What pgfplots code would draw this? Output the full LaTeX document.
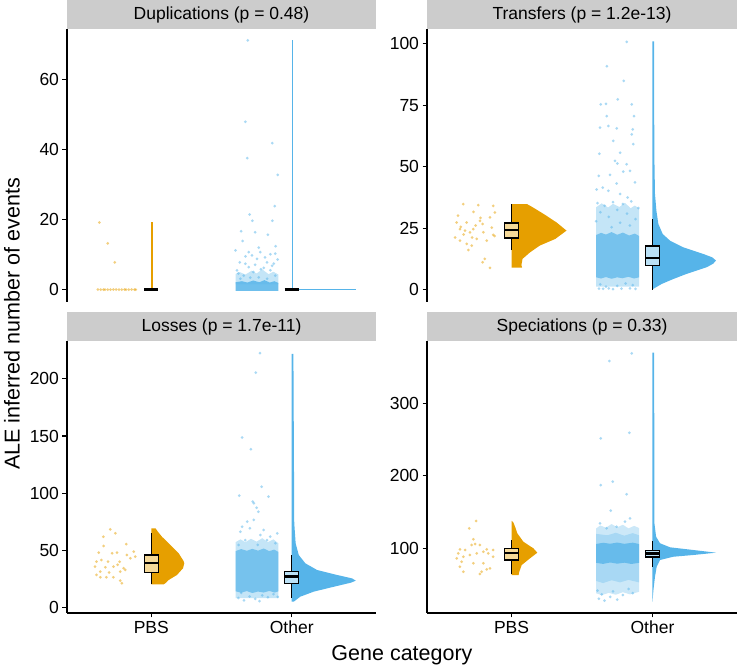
\documentclass[border=0pt]{standalone}
\usepackage{fontspec}
\setmainfont{Liberation Sans}
\usepackage{pgfplots}
\pgfplotsset{compat=1.18}

\definecolor{pbs}{HTML}{E69F00}
\definecolor{oth}{HTML}{56B4E9}
\definecolor{strip}{HTML}{CCCCCC}

\newcommand{\ticksz}{\fontsize{17.5}{20}\selectfont}
\newcommand{\labsz}{\fontsize{21.5}{24}\selectfont}

\pgfplotsset{
  rain/.style={
    scale only axis, width=309pt, height=273pt,
    xmin=0.4, xmax=2.6, anchor=south west,
    axis y line*=left,
    axis line style={line width=1.1pt, black},
    tick align=outside, major tick length=4.5pt,
    tick style={line width=1.1pt, black},
    ticklabel style={font=\ticksz},
    /pgf/number format/assume math mode=true,
  },
  top/.style={rain, axis x line=none},
  bot/.style={rain, height=272pt, axis x line*=bottom,
    xtick={1,2}, xticklabels={PBS,Other}},
  pts/.style={only marks, mark=*, mark size=1.5pt, color=#1,
    mark options={fill=#1, fill opacity=0.5, draw opacity=0}},
  core/.style={fill=oth, draw=none, fill opacity=#1},
  vio/.style={fill=#1, draw=none},
  whisk/.style={black, line width=1.3pt},
  bx/.style={draw=black, line width=1.3pt, fill=#1!40!white},
  med/.style={black, line width=2.2pt},
}

\begin{document}
\begin{tikzpicture}
\useasboundingbox (0,0) rectangle (737pt,669pt);

% strips
\fill[strip] (67pt,640pt) rectangle (376pt,669pt);
\fill[strip] (427pt,640pt) rectangle (737pt,669pt);
\fill[strip] (67pt,328pt) rectangle (376pt,357pt);
\fill[strip] (427pt,328pt) rectangle (737pt,357pt);
\node[font=\ticksz] at (221.5pt,654.5pt) {Duplications (p = 0.48)};
\node[font=\ticksz] at (582pt,654.5pt) {Transfers (p = 1.2e-13)};
\node[font=\ticksz] at (221.5pt,342.5pt) {Losses (p = 1.7e-11)};
\node[font=\ticksz] at (582pt,342.5pt) {Speciations (p = 0.33)};

% ---- Duplications
\begin{axis}[top, at={(67pt,367pt)}, ymin=-3.55, ymax=74.55, ytick={0,20,40,60}]
\addplot[pts=pbs] coordinates {
(0.63,19.2)(0.69,13.2)(0.74,7.8)
(0.62,0)(0.64,0)(0.66,0)(0.67,0)(0.69,0)(0.71,0)(0.73,0)(0.75,0)
(0.77,0)(0.79,0)(0.81,0)(0.82,0)(0.84,0)(0.86,0)(0.88,0)(0.89,0)};
\addplot[pbs, line width=1.6pt] coordinates {(1.005,0)(1.005,19.2)};
\addplot[black, line width=3.5pt] coordinates {(0.95,0)(1.05,0)};
\addplot[core=0.35] coordinates {(1.6,1.5)(1.905,1.5)(1.905,4.3)(1.87,5.1)(1.835,4.4)(1.79,5.8)(1.75,4.6)(1.715,5.4)(1.67,4.3)(1.63,5.0)(1.6,4.5)} -- cycle;
\addplot[core=0.85] coordinates {(1.6,-0.4)(1.905,-0.4)(1.905,1.9)(1.875,2.4)(1.845,2.0)(1.805,2.7)(1.77,2.1)(1.725,2.6)(1.685,2.0)(1.645,2.4)(1.6,2.1)} -- cycle;
\addplot[pts=oth] coordinates {
(1.687,71.3)(1.67,48)(1.684,37.6)(1.862,41.9)(1.90,32.8)(1.879,23.9)(1.72,19.7)
(1.862,19.7)(1.64,16.7)(1.74,16.4)(1.65,13.9)(1.886,12.4)(1.765,12)(1.694,10.7)
(1.776,10.7)(1.848,10.1)(1.883,10.3)(1.717,9.8)(1.753,8.8)(1.63,7.8)(1.67,7.4)
(1.824,7.8)(1.872,7.4)(1.694,6.4)(1.801,6.2)(1.61,5.5)(1.727,5)(1.848,5.5)
(1.658,4)(1.765,3.5)(1.883,4)(1.634,3.1)(1.824,3.1)(1.705,3.4)
(1.78,5.8)(1.62,4.6)(1.86,6.8)(1.74,7.1)(1.9,8.6)(1.81,9.2)(1.67,9.5)(1.6,11.2)(1.83,15.7)(1.7,21.5)};
\addplot[oth, line width=1.6pt] coordinates {(2.005,71.3)(2.005,0)(2.46,0)};
\addplot[black, line width=3.5pt] coordinates {(1.95,0)(2.05,0)};
\end{axis}

% ---- Transfers
\begin{axis}[top, width=310pt, at={(427pt,367pt)}, ymin=-5.05, ymax=106.05, ytick={0,25,50,75,100}]
\addplot[pts=pbs] coordinates {
(0.657,34.8)(0.764,34.4)(0.87,34.1)(0.882,31.4)(0.847,29.4)(0.78,29.2)(0.611,27.3)
(0.682,27.3)(0.776,28)(0.729,24.6)(0.795,26.7)(0.634,24.6)(0.67,24)(0.705,23.3)
(0.599,21.2)(0.8,23.3)(0.87,22.3)(0.753,20.6)(0.824,19.9)(0.682,18.6)(0.717,17.9)
(0.634,19.9)(0.693,16.1)(0.81,12.5)(0.795,11.1)(0.847,8.8)(0.88,21.8)(0.64,25.5)
(0.745,26.1)(0.86,25.2)(0.72,21.2)(0.66,22.4)(0.73,31.6)(0.62,30.1)};
\addplot[vio=pbs] coordinates {(1,8.9)(1.075,8.9)(1.07,10)(1.078,12.5)(1.13,15.1)(1.2,17.9)(1.31,20.6)(1.39,24)(1.32,27.3)(1.23,30.7)(1.15,33.5)(1.11,34.8)(1,34.8)} -- cycle;
\addplot[whisk] coordinates {(1,16.1)(1,21)};
\addplot[whisk] coordinates {(1,27.1)(1,34.8)};
\addplot[bx=pbs] coordinates {(0.95,21)(1.05,21)(1.05,27.1)(0.95,27.1)} -- cycle;
\addplot[med] coordinates {(0.95,24.3)(1.05,24.3)};
\addplot[core=0.35] coordinates {(1.6,1.2)(1.905,1.2)(1.905,33)(1.875,34.2)(1.845,33.1)(1.805,35.3)(1.765,33.6)(1.72,34.9)(1.685,33.4)(1.64,35.1)(1.6,33.5)} -- cycle;
\addplot[core=0.7] coordinates {(1.6,5)(1.635,4.5)(1.67,5.1)(1.71,4.4)(1.75,5)(1.785,4.6)(1.83,5.2)(1.87,4.5)(1.905,5)(1.905,21.8)(1.875,22.8)(1.835,22)(1.79,23.2)(1.75,22.3)(1.71,23.4)(1.67,22.4)(1.635,23.1)(1.6,22.2)} -- cycle;
\addplot[pts=oth] coordinates {
(1.817,100.8)(1.677,90.9)(1.796,84.9)(1.633,75.4)(1.67,75.6)(1.753,77.4)(1.853,75.4)
(1.869,70.6)(1.675,70.6)(1.628,65.9)(1.687,66.6)(1.746,65.6)(1.86,65.2)(1.853,63.2)
(1.722,60.5)(1.864,59.2)(1.623,55.3)(1.77,55.7)(1.734,52.4)(1.751,51.3)(1.817,51)
(1.793,48)(1.841,48.3)(1.619,46.3)(1.699,46.7)(1.876,43.6)(1.746,43.2)(1.647,41.5)
(1.604,40.7)(1.687,40.2)(1.77,38.9)(1.824,37.5)
(1.62,0.4)(1.65,0.3)(1.69,0.5)(1.72,0.2)(1.78,0.4)(1.84,0.5)(1.88,0.3)(1.75,1.5)
(1.63,2.1)(1.86,1.8)(1.81,2.5)(1.67,1.2)
(1.61,35.2)(1.66,34.1)(1.72,35.6)(1.79,34.8)(1.85,35.9)(1.9,33.2)(1.63,31.5)(1.75,32.4)
(1.82,30.9)(1.69,29.6)(1.88,28.7)(1.6,27.8)(1.77,27.2)(1.84,26.1)(1.71,25.4)};
\addplot[vio=oth] coordinates {(2,0)(2.006,0.3)(2.066,2.3)(2.148,4.3)(2.243,6.4)(2.385,9.1)(2.43,10.5)(2.451,11.8)(2.425,13.1)(2.361,14.5)(2.219,17.2)(2.125,19.9)(2.073,22.6)(2.042,26.7)(2.028,32.1)(2.018,38.9)(2.014,52.4)(2.012,75)(2.012,101)(2,101)} -- cycle;
\addplot[whisk] coordinates {(2,0)(2,9.7)};
\addplot[whisk] coordinates {(2,17.7)(2,28.7)};
\addplot[bx=oth] coordinates {(1.95,9.7)(2.05,9.7)(2.05,17.7)(1.95,17.7)} -- cycle;
\addplot[med] coordinates {(1.95,13)(2.05,13)};
\end{axis}

% ---- Losses
\begin{axis}[bot, at={(67pt,56pt)}, ymin=-5, ymax=233.2, ytick={0,50,100,150,200}]
\addplot[pts=pbs] coordinates {
(0.708,68.3)(0.744,64.8)(0.659,61.8)(0.822,55.4)(0.661,53.7)(0.626,47.8)(0.721,47.3)
(0.756,47.8)(0.875,48.7)(0.886,44.3)(0.827,45.8)(0.644,41.4)(0.692,39.9)(0.774,39.9)
(0.61,39.9)(0.731,35.6)(0.673,35)(0.803,34.2)(0.779,31.2)(0.637,31.2)(0.61,28.3)
(0.681,26.3)(0.731,26.3)(0.779,23.3)(0.637,26.3)(0.791,21)(0.815,32.7)(0.851,42.9)
(0.60,35.6)(0.7,30.5)(0.76,37.2)};
\addplot[vio=pbs] coordinates {(1,20.1)(1.088,20.1)(1.105,21.5)(1.124,23.9)(1.183,28.3)(1.226,34.2)(1.235,38.5)(1.23,40.5)(1.195,47.3)(1.136,54.6)(1.076,61.8)(1.045,66.5)(1.03,69.2)(1,69.2)} -- cycle;
\addplot[whisk] coordinates {(1,20.3)(1,30.7)};
\addplot[whisk] coordinates {(1,45.8)(1,65.2)};
\addplot[bx=pbs] coordinates {(0.95,30.7)(1.05,30.7)(1.05,45.8)(0.95,45.8)} -- cycle;
\addplot[med] coordinates {(0.95,38.5)(1.05,38.5)};
\addplot[core=0.35] coordinates {(1.6,8)(1.905,8)(1.905,56)(1.87,59.5)(1.83,57)(1.79,60.5)(1.75,57.5)(1.71,60)(1.67,57)(1.635,59.5)(1.6,57)} -- cycle;
\addplot[core=0.7] coordinates {(1.6,14)(1.64,12.8)(1.68,14.2)(1.72,12.5)(1.76,13.8)(1.8,12.9)(1.84,14.3)(1.88,12.9)(1.905,14)(1.905,48.5)(1.875,50.5)(1.84,49.2)(1.8,51.5)(1.76,49.6)(1.72,51.2)(1.68,49.5)(1.64,51)(1.6,49.2)} -- cycle;
\addplot[pts=oth] coordinates {
(1.774,222.5)(1.744,205.5)(1.647,148.6)(1.709,138.4)(1.786,105.6)(1.627,97.8)(1.834,96.9)
(1.722,92.5)(1.75,87.2)(1.762,83.7)(1.73,91.1)(1.683,75)(1.73,76.5)(1.647,70.6)
(1.702,69.2)(1.8,67.7)(1.776,63.3)(1.634,66.2)(1.847,61.8)(1.883,56.1)(1.824,58.9)
(1.669,58.9)(1.622,54.6)(1.758,54.6)(1.897,64.8)
(1.62,8.2)(1.66,6.1)(1.7,9.5)(1.74,7.3)(1.79,10.4)(1.83,8.8)(1.87,11.5)(1.64,12.6)(1.77,5.4)(1.9,9.1)};
\addplot[vio=oth] coordinates {(2,4.9)(2.014,4.9)(2.061,9.3)(2.157,13.7)(2.3,18)(2.42,21.5)(2.456,23.3)(2.43,25.3)(2.323,28.3)(2.18,32.7)(2.097,38.5)(2.05,45.8)(2.028,56)(2.018,73.6)(2.012,222)(2,222)} -- cycle;
\addplot[whisk] coordinates {(2,8.4)(2,21)};
\addplot[whisk] coordinates {(2,31.2)(2,45.8)};
\addplot[bx=oth] coordinates {(1.95,21)(2.05,21)(2.05,31.2)(1.95,31.2)} -- cycle;
\addplot[med] coordinates {(1.95,27)(2.05,27)};
\end{axis}

% ---- Speciations
\begin{axis}[bot, width=310pt, at={(427pt,56pt)}, ymin=10.8, ymax=386, ytick={100,200,300}]
\addplot[pts=pbs] coordinates {
(0.748,137.7)(0.70,127.6)(0.729,112.4)(0.634,98.6)(0.67,97.7)(0.717,104.6)(0.741,105.9)
(0.776,104.6)(0.824,98.6)(0.87,97.7)(0.622,93.1)(0.753,93.1)(0.835,93.1)(0.658,88.4)
(0.705,90.8)(0.80,95.3)(0.646,81.5)(0.729,79.3)(0.80,79.3)(0.634,74.6)(0.658,67.7)
(0.788,67.7)(0.776,64.6)(0.847,72.4)(0.824,71)(0.87,88.4)(0.611,86.2)};
\addplot[vio=pbs] coordinates {(1,63.2)(1.05,63.2)(1.055,67.7)(1.072,77)(1.131,86.2)(1.183,94)(1.155,100)(1.084,109.1)(1.041,120.7)(1.025,129.8)(1.012,136)(1,138)} -- cycle;
\addplot[whisk] coordinates {(1,64.5)(1,84)};
\addplot[whisk] coordinates {(1,100)(1,112)};
\addplot[bx=pbs] coordinates {(0.95,84)(1.05,84)(1.05,100)(0.95,100)} -- cycle;
\addplot[med] coordinates {(0.95,93.5)(1.05,93.5)};
\addplot[core=0.3] coordinates {(1.6,38)(1.64,35.5)(1.69,38.5)(1.74,36)(1.79,39.5)(1.84,36.5)(1.905,40)(1.905,128)(1.87,131)(1.83,127.5)(1.79,132.5)(1.75,129)(1.71,133.5)(1.67,128.5)(1.63,131.5)(1.6,127.5)} -- cycle;
\addplot[core=0.3] coordinates {(1.6,55)(1.65,52)(1.71,56)(1.77,53)(1.83,56.5)(1.905,53)(1.905,118)(1.86,121)(1.8,117.5)(1.74,121.5)(1.68,118)(1.6,120)} -- cycle;
\addplot[core=0.8] coordinates {(1.6,80)(1.65,78.5)(1.7,80.5)(1.75,78.8)(1.8,80.2)(1.85,78.4)(1.905,80)(1.905,106)(1.86,107.8)(1.8,106.2)(1.75,108)(1.7,106.3)(1.65,107.7)(1.6,106)} -- cycle;
\addplot[pts=oth] coordinates {
(1.853,369)(1.694,358.3)(1.633,251.7)(1.836,259.4)(1.633,187.3)(1.718,191.9)(1.817,174.5)
(1.704,151.9)(1.841,141.4)(1.628,134.5)(1.805,136.7)(1.746,129.8)(1.675,127.6)
(1.62,30.5)(1.66,27.8)(1.7,33.1)(1.75,29.2)(1.64,36.4)(1.79,35.6)(1.86,38.2)(1.61,41.5)(1.72,40.7)(1.83,43.9)};
\addplot[vio=oth] coordinates {(2,26.3)(2.007,42.5)(2.018,60.8)(2.03,74.6)(2.054,83.9)(2.148,88.4)(2.29,90.8)(2.451,94)(2.29,97.7)(2.125,101.4)(2.054,106.9)(2.026,116)(2.014,134.5)(2.012,370)(2,370)} -- cycle;
\addplot[whisk] coordinates {(2,74.6)(2,88)};
\addplot[whisk] coordinates {(2,97.2)(2,110)};
\addplot[bx=oth] coordinates {(1.95,88)(2.05,88)(2.05,97.2)(1.95,97.2)} -- cycle;
\addplot[med] coordinates {(1.95,92.8)(2.05,92.8)};
\end{axis}

\node[font=\labsz, rotate=90] at (12pt,345pt) {ALE inferred number of events};
\node[font=\labsz] at (402pt,14pt) {Gene category};
\end{tikzpicture}
\end{document}
